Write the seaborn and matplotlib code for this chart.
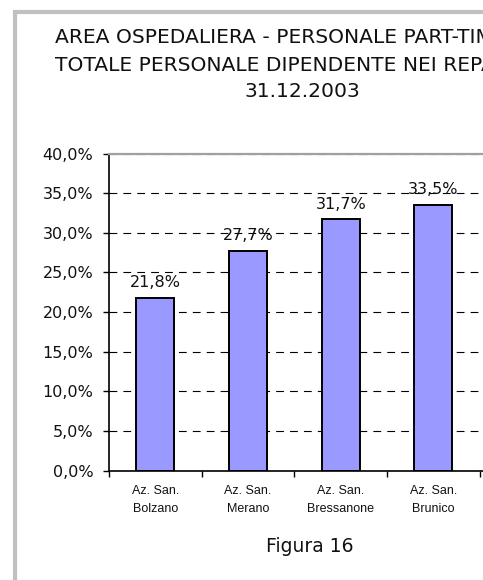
import matplotlib
matplotlib.use("Agg")
import matplotlib.pyplot as plt
import seaborn as sns
import pandas as pd
from matplotlib.patches import Rectangle
from matplotlib.ticker import FuncFormatter, FixedLocator

# ---- data ----
categories = ["Az. San.\nBolzano", "Az. San.\nMerano", "Az. San.\nBressanone", "Az. San.\nBrunico"]
values = [21.8, 27.7, 31.7, 33.5]
title_lines = ["AREA OSPEDALIERA - PERSONALE PART-TIME SUL",
               "TOTALE PERSONALE DIPENDENTE NEI REPARTI AL",
               "31.12.2003"]
yticks = [0, 5, 10, 15, 20, 25, 30, 35, 40]
caption = "Figura 16"

sns.set_theme(style="white")
plt.rcParams['font.family'] = ['DejaVu Sans']

W, H = 483, 580
fig = plt.figure(figsize=(W / 100, H / 100), dpi=100)
fig.patch.set_facecolor("white")

# axes placement (pixels)
left_px, bottom_px, top_px = 109, 470.7, 153.5
cat_w = 92.7
n_slots = 5
ax = fig.add_axes([left_px / W, 1 - bottom_px / H, n_slots * cat_w / W, (bottom_px - top_px) / H])

df = pd.DataFrame({"cat": categories, "val": values})
sns.barplot(data=df, x="cat", y="val", ax=ax, color="#9999FF", width=0.41,
            edgecolor="black", linewidth=1.4, saturation=1, zorder=3)

ax.set_xlim(-0.5, n_slots - 0.5)
ax.set_ylim(0, 40)
ax.set_yticks(yticks)
ax.yaxis.set_major_formatter(FuncFormatter(lambda v, p: f"{v:.1f}%".replace(".", ",")))
ax.tick_params(axis="y", which="major", length=4.3, width=1, color="black", direction="out",
               labelsize=11.5, pad=7, left=True)
for t in ax.get_yticklabels():
    t.set_color("#111111")

# x labels
ax.set_xticks(range(len(categories)))
ax.set_xticklabels(categories, fontsize=9, family="Liberation Sans", linespacing=1.65)
ax.tick_params(axis="x", which="major", length=0, pad=10.5)
for t in ax.get_xticklabels():
    t.set_color("#111111")
ax.xaxis.set_minor_locator(FixedLocator([i - 0.5 for i in range(n_slots + 1)]))
ax.tick_params(axis="x", which="minor", length=4.3, width=1, color="black", direction="out", bottom=True)
ax.set_xlabel("")
ax.set_ylabel("")

# grid
ax.set_axisbelow(True)
ax.yaxis.grid(True, linestyle=(0, (7, 5.5)), color="black", linewidth=0.8)
ax.xaxis.grid(False)

# spines
ax.spines["left"].set_color("black")
ax.spines["left"].set_linewidth(1.2)
ax.spines["bottom"].set_color("black")
ax.spines["bottom"].set_linewidth(1.2)
ax.spines["top"].set_color("#a0a0a0")
ax.spines["top"].set_linewidth(1.6)
ax.spines["top"].set_zorder(5)
ax.spines["right"].set_visible(False)

# value labels
for cont in ax.containers:
    ax.bar_label(cont, labels=[f"{v:.1f}%".replace(".", ",") for v in values],
                 padding=5.5, fontsize=11.5, color="#111111")

# title (lines 1-2 start at the same left edge, line 3 centred)
title_fs = 14.6
fig.text(55 / W, 1 - 43.3 / H, title_lines[0], ha="left", va="baseline",
         fontsize=title_fs, color="#111111")
fig.text(55 / W, 1 - 70.7 / H, title_lines[1], ha="left", va="baseline",
         fontsize=title_fs, color="#111111")
fig.text(302.5 / W, 1 - 97.3 / H, title_lines[2], ha="center", va="baseline",
         fontsize=title_fs, color="#111111")

# caption
fig.text(310 / W, 1 - 547 / H, caption, ha="center", va="center", fontsize=13.5, color="#111111")

# gray frame
fig.add_artist(Rectangle((15 / W, -0.2), 1.2, 1.2 - 12 / H, transform=fig.transFigure,
                         fill=False, edgecolor="#c0c0c0", linewidth=3))

fig.savefig("out.png", dpi=100, facecolor="white")
